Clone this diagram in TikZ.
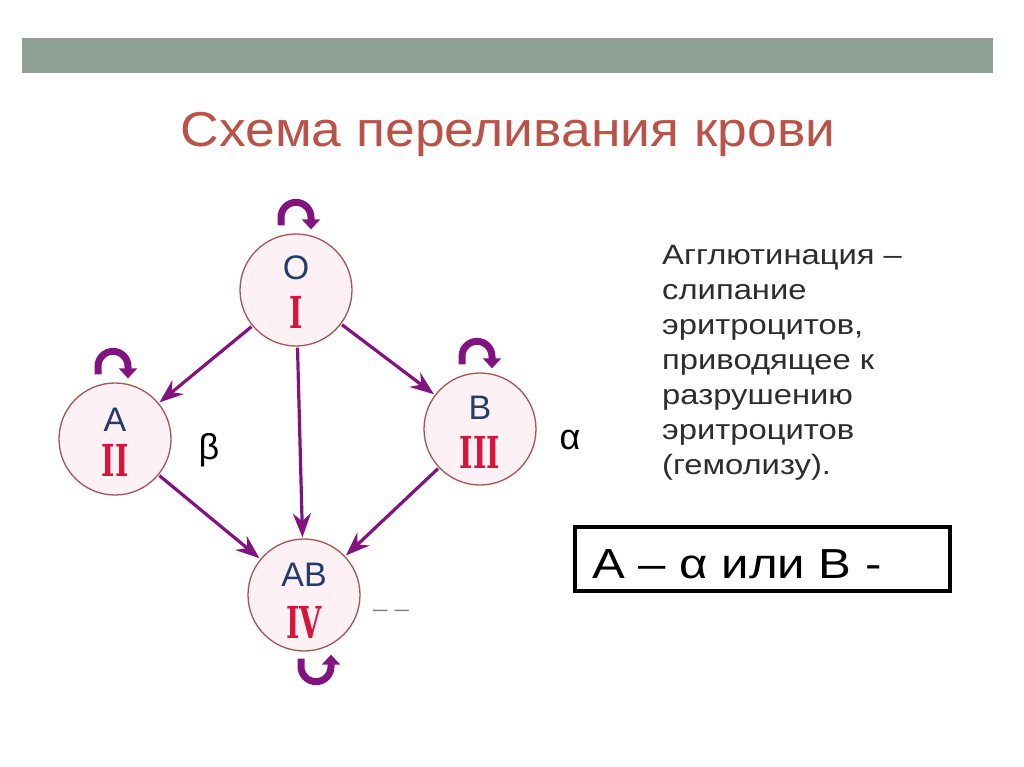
\documentclass[tikz,border=0pt]{standalone}
\usepackage{fontspec}
\setmainfont{Liberation Sans}
\newfontfamily\titlefont[FakeStretch=1.09]{Liberation Sans}
\newfontfamily\widefont[FakeStretch=1.17]{Liberation Sans}
\newfontfamily\numfont[FakeStretch=0.65]{DejaVu Serif}
\usetikzlibrary{arrows.meta}
\definecolor{barcol}{RGB}{143,160,150}
\definecolor{titlecol}{RGB}{185,82,72}
\definecolor{purp}{RGB}{130,20,130}
\definecolor{ringcol}{RGB}{165,85,85}
\definecolor{ringfill}{RGB}{253,241,246}
\definecolor{letcol}{RGB}{35,60,105}
\definecolor{numcol}{RGB}{215,20,60}
\definecolor{txtcol}{RGB}{45,45,45}
\begin{document}
\begin{tikzpicture}[x=1pt,y=-1pt,
  group/.style={circle,draw=ringcol,line width=1.3pt,fill=ringfill,minimum size=112pt,inner sep=0pt},
  letter/.style={text=letcol,font=\fontsize{34}{34}\selectfont,inner sep=0pt},
  numeral/.style={text=numcol,font=\numfont\bfseries\fontsize{44}{44}\selectfont,inner sep=0pt},
  transf/.style={draw=purp,line width=3.2pt,-{Stealth[length=24pt,width=18pt,inset=8pt]},shorten <=1pt,shorten >=1pt},
  selfloop/.style={draw=purp,line width=7pt,-{Triangle[length=10pt,width=18pt]}},
  greek/.style={text=black,font=\fontsize{36}{36}\selectfont,inner sep=0pt},
  body/.style={text=txtcol,font=\widefont\fontsize{28}{35}\selectfont,align=left,anchor=north west,inner sep=0pt}
]
\useasboundingbox (0,0) rectangle (1024,767);
\fill[white] (0,0) rectangle (1024,767);
\fill[barcol] (22,38) rectangle (993,73);
\node[text=titlecol,font=\titlefont\fontsize{49}{49}\selectfont,inner sep=0pt,anchor=base] (title) at (508,147) {Схема переливания крови};

\node[group] (O) at (296,290) {};
\node[group] (A) at (115,439) {};
\node[group] (B) at (480,429) {};
\node[group] (AB) at (304,595) {};

\node[letter] (Ol) at (296,268) {O};
\node[numeral] (On) at (296,312) {I};
\node[letter] (Al) at (115,420) {A};
\node[numeral] (An) at (115,460) {II};
\node[letter] (Bl) at (480,408) {B};
\node[numeral] (Bn) at (480,452) {III};
\node[letter] (ABl) at (304,575) {AB};
\node[numeral] (ABn) at (304,622) {IV};

\draw[transf] (O) -- (A);
\draw[transf] (O) -- (B);
\draw[transf] (O) -- (AB);
\draw[transf] (A) -- (AB);
\draw[transf] (B) -- (AB);

\draw[selfloop] ([shift={(-15,-8)}]O.north) -- ++(0,-8) arc[start angle=180,end angle=360,radius=15] -- ++(0,12);
\draw[selfloop] ([shift={(-17,-8)}]A.north) -- ++(0,-8) arc[start angle=180,end angle=360,radius=15] -- ++(0,12);
\draw[selfloop] ([shift={(-18,-8)}]B.north) -- ++(0,-8) arc[start angle=180,end angle=360,radius=15] -- ++(0,12);
\draw[selfloop] ([shift={(-3,7)}]AB.south) -- ++(0,8) arc[start angle=180,end angle=0,radius=15] -- ++(0,-12);

\node[greek] (beta) at (209,450) {β};
\node[greek] (alpha) at (570,440) {α};
\node[text=gray,font=\widefont\fontsize{22}{22}\selectfont,inner sep=0pt] (dash) at (391,613) {– –};

\node[body] (expl) at (662,245) {Агглютинация –\\слипание\\эритроцитов,\\приводящее к\\разрушению\\эритроцитов\\(гемолизу).};

\node[draw=black,line width=4pt,minimum width=375pt,minimum height=64pt,inner sep=0pt] (box) at (762.5,559) {};
\node[font=\widefont\fontsize{42}{42}\selectfont,anchor=base west,inner sep=0pt] (boxtext) at (592,578) {А – α или В -};
\end{tikzpicture}
\end{document}
